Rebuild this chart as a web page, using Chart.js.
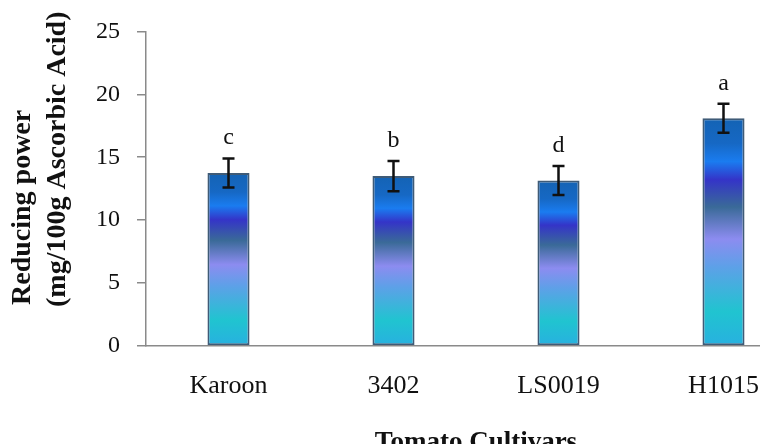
<!DOCTYPE html>
<html>
<head>
<meta charset="utf-8">
<script src="https://cdn.jsdelivr.net/npm/chart.js@4.4.1/dist/chart.umd.min.js"></script>
<style>
html,body{margin:0;padding:0;background:#fff;overflow:hidden;}
#wrap{width:760px;height:444px;overflow:hidden;}
</style>
</head>
<body>
<div id="wrap"><canvas id="c" width="830" height="444"></canvas></div>
<script>
const cultivars = ['Karoon', '3402', 'LS0019', 'H1015'];
const reducingPower = [13.75, 13.5, 13.15, 18.1];
const errors = [1.15, 1.2, 1.15, 1.15];
const letters = ['c', 'b', 'd', 'a'];
const yTicks = [0, 5, 10, 15, 20, 25];

const SERIF = '"Liberation Serif", "Times New Roman", serif';

function barGradient(ctx){
  const chart = ctx.chart;
  const y = chart.scales.y;
  if (!y || ctx.dataIndex === undefined) return '#1a7cf0';
  const top = y.getPixelForValue(reducingPower[ctx.dataIndex]);
  const bot = y.getPixelForValue(0);
  if (!isFinite(top) || !isFinite(bot) || top === bot) return '#1a7cf0';
  const g = chart.ctx.createLinearGradient(0, top, 0, bot);
  g.addColorStop(0.00, '#1463b4');
  g.addColorStop(0.11, '#1668c4');
  g.addColorStop(0.19, '#1a7cf0');
  g.addColorStop(0.27, '#3434c8');
  g.addColorStop(0.39, '#3a6a98');
  g.addColorStop(0.53, '#8c8cf0');
  g.addColorStop(0.65, '#5ea0e8');
  g.addColorStop(0.85, '#20c4d0');
  g.addColorStop(1.00, '#28b0e0');
  return g;
}

const extras = {
  id: 'extras',
  afterDatasetsDraw(chart){
    const c = chart.ctx, y = chart.scales.y;
    const meta = chart.getDatasetMeta(0);
    c.save();
    meta.data.forEach((bar, i)=>{
      const x = bar.x;
      const yt = y.getPixelForValue(reducingPower[i] + errors[i]);
      const yb = y.getPixelForValue(reducingPower[i] - errors[i]);
      c.strokeStyle = '#111';
      c.lineWidth = 2.5;
      c.beginPath();
      c.moveTo(x, yt); c.lineTo(x, yb);
      c.moveTo(x - 6, yt); c.lineTo(x + 6, yt);
      c.moveTo(x - 6, yb); c.lineTo(x + 6, yb);
      c.stroke();
      c.fillStyle = '#111';
      c.font = '24px ' + SERIF;
      c.textAlign = 'center';
      c.textBaseline = 'alphabetic';
      c.fillText(letters[i], x, yt - 14);
    });
    c.restore();
  },
  afterDraw(chart){
    const c = chart.ctx, a = chart.chartArea;
    c.save();
    c.fillStyle = '#111';
    c.font = 'bold 28px ' + SERIF;
    c.textAlign = 'left';
    c.textBaseline = 'middle';
    c.save();
    c.translate(23, 305); c.rotate(-Math.PI/2);
    c.fillText('Reducing power', 0, 0);
    c.restore();
    c.save();
    c.translate(58, 307); c.rotate(-Math.PI/2);
    c.fillText('(mg/100g Ascorbic Acid)', 0, 0);
    c.restore();
    c.font = 'bold 27px ' + SERIF;
    c.textAlign = 'center';
    c.textBaseline = 'alphabetic';
    c.fillText('Tomato Cultivars', (a.left + a.right)/2, a.bottom + 104);
    c.restore();
  }
};

new Chart(document.getElementById('c'), {
  type: 'bar',
  data: {
    labels: cultivars,
    datasets: [{
      data: reducingPower,
      backgroundColor: barGradient,
      borderColor: '#3f5b77',
      borderWidth: 2,
      borderSkipped: false,
      categoryPercentage: 1,
      barPercentage: 0.255
    }]
  },
  options: {
    responsive: false,
    animation: false,
    layout: { padding: { top: 23, right: 24, left: 0, bottom: 0 } },
    plugins: { legend: { display: false }, tooltip: { enabled: false } },
    scales: {
      x: {
        afterFit: s => { s.height = 98; },
        grid: { display: false, drawTicks: false },
        border: { display: true, color: '#8a8a8a', width: 1.5 },
        ticks: { color: '#111', padding: 25, font: { family: SERIF, size: 26 } }
      },
      y: {
        min: 0, max: 25,
        afterFit: s => { s.width = 146; },
        afterBuildTicks: s => { s.ticks = yTicks.map(v => ({ value: v })); },
        grid: { drawOnChartArea: false, drawTicks: true, tickLength: 9, color: '#8a8a8a', lineWidth: 1.5 },
        border: { display: true, color: '#8a8a8a', width: 1.5 },
        ticks: { color: '#111', padding: 17, font: { family: SERIF, size: 24 } }
      }
    }
  },
  plugins: [extras]
});
</script>
</body>
</html>
